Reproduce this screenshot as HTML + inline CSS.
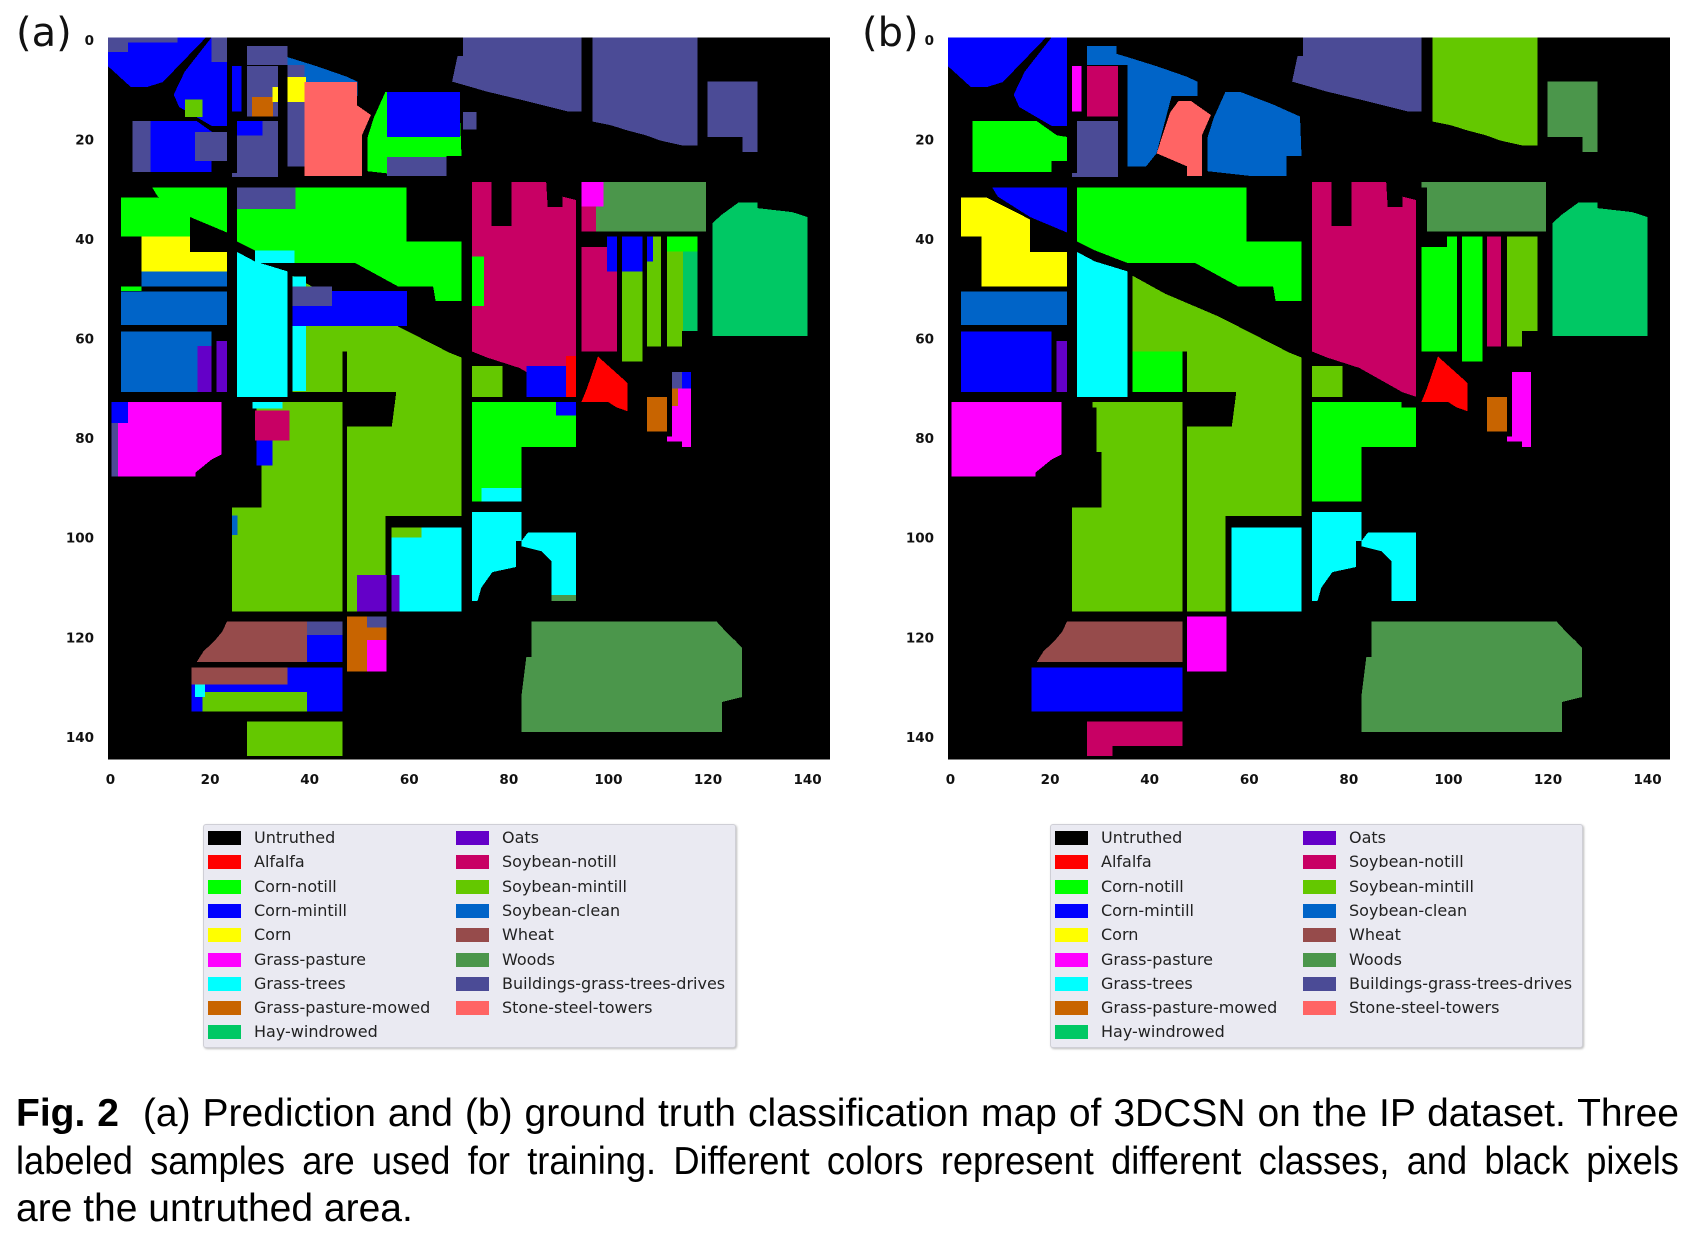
<!DOCTYPE html>
<html><head><meta charset="utf-8">
<style>
html,body{margin:0;padding:0;background:#fff;}
body{width:1687px;height:1235px;position:relative;overflow:hidden;font-family:"Liberation Sans",sans-serif;}
.panel-label{position:absolute;font-size:40px;color:#111;font-family:"DejaVu Sans","Liberation Sans",sans-serif;}
.legend{position:absolute;background:#eaeaf2;border:1px solid #cfcfd6;border-radius:3px;box-shadow:1px 1px 2px #bbb;}
.li{position:absolute;font-family:"DejaVu Sans",sans-serif;font-size:16px;color:#222;white-space:nowrap;}
.sw{position:absolute;width:33px;height:14px;}
.cap{position:absolute;left:16px;font-size:39px;color:#000;white-space:nowrap;transform-origin:0 0;}
.cap.j{text-align:justify;text-align-last:justify;width:1663px;white-space:normal;}
</style></head>
<body>
<div class="panel-label" style="left:16px;top:10px;">(a)</div>
<div class="panel-label" style="left:862px;top:10px;">(b)</div>
<svg id="chart" width="1687" height="810" style="position:absolute;left:0;top:0;"></svg>
<div id="legA" class="legend" style="left:203px;top:824px;width:531px;height:222px;"></div>
<div id="legB" class="legend" style="left:1050px;top:824px;width:531px;height:222px;"></div>
<div class="cap j" style="top:1092px;"><b>Fig. 2</b>&nbsp; (a) Prediction and (b) ground truth classification map of 3DCSN on the IP dataset. Three</div>
<div class="cap j" style="top:1140px;width:1790px;transform:scaleX(0.929);">labeled samples are used for training. Different colors represent different classes, and black pixels</div>
<div class="cap" style="top:1187px;">are the untruthed area.</div>
<script>
const classNames=["Untruthed","Alfalfa","Corn-notill","Corn-mintill","Corn","Grass-pasture","Grass-trees","Grass-pasture-mowed","Hay-windrowed","Oats","Soybean-notill","Soybean-mintill","Soybean-clean","Wheat","Woods","Buildings-grass-trees-drives","Stone-steel-towers"];
const classColors=["#000000","#ff0000","#00ff00","#0000ff","#ffff00","#ff00ff","#00ffff","#c86400","#00c864","#6400c8","#c80064","#64c800","#0064c8","#964b4b","#4b964b","#4b4b96","#ff6464"];
const xTicks=[0,20,40,60,80,100,120,140];
const yTicks=[0,20,40,60,80,100,120,140];
const gtRegions=[
[3,[[0,0],[19.7,0],[11,9],[7.8,10],[4.6,10],[0,5.8]]],
[3,[[20.8,0],[23.9,0],[23.9,17.8],[20.8,17.8],[14.3,14],[13.2,11.5],[15.4,6.9]]],
[5,[[24.9,5.8],[26.8,5.8],[26.8,14.9],[24.9,14.9]]],
[10,[[27.9,5.8],[34.1,5.8],[34.1,15.9],[27.9,15.9]]],
[15,[[25.9,16.8],[34.1,16.8],[34.1,28.1],[24.9,28.1],[24.9,27.3],[25.9,27.3]]],
[12,[[27.9,1.7],[33.8,1.7],[33.8,3.3],[37.1,4.3],[41.9,5.8],[47.9,7.9],[50.1,8.9],[50.1,11.8],[44.9,11.8],[41.9,23.3],[39.8,25.9],[36,25.9],[36,5.6],[27.9,5.6]]],
[16,[[46.3,12.8],[48.8,12.8],[52.8,15.6],[51,19.7],[51,27.9],[48,27.9],[48,25.9],[41.9,23.3],[44.6,15.1]]],
[12,[[55.7,11],[58.8,11],[65.3,13.5],[70.7,15.9],[71,23.8],[68,23.8],[68,27.9],[61.2,27.9],[52.1,26.9],[52.1,20.2],[53.4,16.1]]],
[15,[[71.3,0],[95.1,0],[95.1,14.9],[92.4,14.9],[84.8,13],[76.1,10.9],[69.1,8.9],[70.2,3.8],[71.3,3.8]]],
[11,[[97.3,0],[118.4,0],[118.4,21.7],[115.3,21.7],[110.8,20.7],[108.1,19.7],[104.3,18.7],[101.1,17.7],[97.3,16.9]]],
[14,[[120.4,8.9],[130.4,8.9],[130.4,23],[127.4,23],[127.4,20],[120.4,20]]],
[2,[[4.9,16.8],[17.8,16.8],[21.9,19.7],[23.9,20],[23.9,24.8],[20.8,24.8],[20.8,27.1],[4.9,27.1]]],
[3,[[8.9,30.2],[23.9,30.2],[23.9,39.2],[16.5,36.1],[10,32]]],
[4,[[2.6,32.2],[7.8,32.2],[16.5,36.6],[16.5,43.1],[23.9,43.1],[23.9,50],[6.7,50],[6.7,40],[2.6,40]]],
[12,[[2.6,51.1],[23.9,51.1],[23.9,57.8],[2.6,57.8]]],
[3,[[2.6,59.1],[20.8,59.1],[20.8,71.2],[2.6,71.2]]],
[9,[[21.8,61],[23.9,61],[23.9,71.2],[21.8,71.2]]],
[6,[[25.9,43.1],[29.5,45],[36,47],[36,72.2],[25.9,72.2]]],
[2,[[25.9,30.2],[59.9,30.2],[59.9,41],[71,41],[71,53],[65.8,53],[65.3,50],[58.2,50],[49.6,45.3],[36,45.3],[29.5,42.8],[25.9,41]]],
[11,[[37.1,47.9],[43.6,51.5],[54.4,56.1],[68.5,63.3],[71,64.3],[71,96.1],[55.7,96.1],[55.7,115.3],[48,115.3],[48,78.2],[57,78.2],[57.9,71.2],[48,71.2],[48,63.1],[37.1,63.1]]],
[2,[[37.1,63.1],[47.1,63.1],[47.1,71.2],[37.1,71.2]]],
[11,[[29,73.2],[47.1,73.2],[47.1,115.3],[24.9,115.3],[24.9,94.4],[30.8,94.4],[30.8,83.3],[29.8,83.3],[29.8,74.3],[29,74.3]]],
[5,[[0.7,73.2],[22.8,73.2],[22.8,83.8],[20.8,84.8],[17.6,87.4],[17.6,88.2],[0.7,88.2]]],
[6,[[56.9,98.4],[71,98.4],[71,115.3],[56.9,115.3]]],
[10,[[73.1,29.1],[77,29.1],[77,37.9],[81,37.9],[81,29.1],[88,29.1],[88.3,34.1],[91.3,34.1],[91.3,32],[94,32.7],[94,72.2],[91.3,71.3],[82.6,66.4],[76.1,64.3],[73.1,63.1]]],
[11,[[73.1,66],[79.2,66],[79.2,72.2],[73.1,72.2]]],
[2,[[73.1,73.2],[91.1,73.2],[91.1,74.3],[94,74.3],[94,82.3],[83,82.3],[83,93.2],[73.1,93.2]]],
[6,[[73.1,95.3],[83,95.3],[83,101.2],[81.9,101.2],[81.9,106.4],[77.2,107.4],[75,110.5],[74.2,113.2],[73.1,113.2]]],
[6,[[84.3,99.5],[94,99.5],[94,113.2],[89.1,113.2],[89.1,105.3],[87,103.2],[83,102.2],[83,101.2]]],
[14,[[95.1,29.1],[120.1,29.1],[120.1,39],[96.2,39],[96.2,30.2],[95.1,30.2]]],
[2,[[95.1,42.1],[100.2,42.1],[100.2,40],[102.2,40],[102.2,63.1],[95.1,63.1]]],
[2,[[103.2,40],[107.3,40],[107.3,65.1],[103.2,65.1]]],
[10,[[108.2,40],[111.1,40],[111.1,62.1],[108.2,62.1]]],
[11,[[112.3,40],[118.4,40],[118.4,59],[115.3,59],[115.3,62.1],[112.3,62.1]]],
[8,[[121.4,37.3],[123.3,35.6],[126.6,33.2],[130.4,33.2],[130.4,34.3],[137.4,35.1],[140.5,36.1],[140.5,60],[121.4,60]]],
[1,[[98.4,64.1],[100.4,65.9],[103.2,68.4],[104.3,69.4],[104.3,75.1],[102.1,74.3],[100.4,73.2],[95.1,73.2],[96.2,70.5]]],
[7,[[108.2,72.2],[112.3,72.2],[112.3,79.2],[108.2,79.2]]],
[5,[[113.3,67.2],[117.1,67.2],[117.1,82.3],[115.3,82.3],[115.3,81.2],[112.3,81.2],[112.3,80.2],[113.3,80.2]]],
[13,[[23.9,117.3],[47.1,117.3],[47.1,125.5],[17.8,125.5],[19.2,123.3],[21.4,121.2],[23,119.3]]],
[5,[[48,116.3],[55.9,116.3],[55.9,127.4],[48,127.4]]],
[3,[[16.8,126.6],[47.1,126.6],[47.1,135.4],[16.8,135.4]]],
[10,[[27.9,137.4],[47.1,137.4],[47.1,142.3],[33,142.3],[33,144.3],[27.9,144.3]]],
[14,[[85.1,117.3],[122.2,117.3],[124.4,119.7],[126,121.2],[127.3,122.6],[127.3,132.5],[123.3,133.5],[123.3,139.5],[83,139.5],[83,132.5],[84,124.5],[85.1,124.5]]]
];
const predClass=[3,3,3,15,15,12,16,2,15,15,15,3,2,4,12,12,9,6,2,11,11,11,5,6,10,11,2,6,6,14,10,11,11,11,8,1,7,5,13,7,3,11,14];
const predPatches=[
[15,0,0,4,3],[15,4,0,14,1],[15,20.8,0,23.9,5],[11,15.5,12.5,19,16],[15,4.9,16.8,8.5,27.1],[15,17.5,19,23.9,24.8],
[15,27.9,5.8,34.1,15.9],[7,28.9,12,33.1,15.9],[4,33,10,34.1,13],[3,25.9,16.8,31,19.7],[15,27.9,1.7,36,5.6],[15,36,5.6,39.5,25.9],[4,36,8,39.8,13],
[16,39.5,9,50,27.9],[3,56,11,70.7,20],[15,56,24,68,27.9],[15,71.3,15,74,18.5],
[2,2.6,32.2,16.5,40],[2,2.6,50,6.7,51],[12,6.7,47,23.9,50],[12,6.7,60,18,71.2],[9,18,62,20.8,71.2],
[15,25.9,30.2,37.7,34.5],[6,29.5,42.8,37.5,45.3],[6,37.1,48,39.8,71],[3,37.1,51,60,58],[15,37.1,50,45,54],
[10,29.5,75,36.5,81],[6,29,73.2,35,74.5],[3,29.8,81,33,86],[15,0.7,73.2,2,88.2],[3,0.7,73.2,4,77.5],
[2,73.1,44,75.5,54],[3,84,66,94,72.2],[1,92,64,94,72.2],[6,75,90.5,83,93.2],[3,90,73.2,94,76],
[5,95.1,29.1,99.5,34],[10,95.1,34,98,39],[10,95.1,42.1,99.8,63.1],[3,100.2,40,102.2,47],[3,103.2,40,107.3,47],[3,108.2,40,109.5,45],[11,108.2,45,111.1,62.1],
[8,115.5,42,118.4,59],[2,112.3,40,118.4,43],[15,113.3,67.2,115.3,70.5],[3,115.3,67.2,117.1,70.5],[7,113.3,70.5,114.5,74],
[15,40,117.3,47.1,120],[3,40,120,47.1,125.5],[5,52,121,55.9,127.4],[15,52,116.3,55.9,118.5],
[13,16.8,126.6,36,130],[11,19,131.5,40,135.4],[6,17.5,130,19.5,132.5],[11,27.9,137.4,47.1,144.3],
[11,24.9,94.4,26.5,96],[12,24.9,96,26,100],[9,50,108,55.9,115.3],[9,56.9,108,58.5,115.3],[11,56.9,98.4,63,100.5],[14,89.1,112,94,113.2]
];
const X0A=108, X0B=948, Y0=37.3, CELL=722/145;
function xs(u,off){return off+u*CELL;}
function ys(v){return Y0+v*CELL;}
const NS="http://www.w3.org/2000/svg";
const svg=document.getElementById('chart');
function mk(tag,attrs){const e=document.createElementNS(NS,tag);for(const k in attrs)e.setAttribute(k,attrs[k]);return e;}
function drawPanel(off,isPred,tag){
  const g=mk('g',{'shape-rendering':'crispEdges'});
  
  
  const bg=mk('rect',{x:off,y:Y0,width:145*CELL,height:145*CELL,fill:'#000'});
  
  
  g.appendChild(bg);
  gtRegions.forEach((r,i)=>{
    const c=isPred?predClass[i]:r[0];
    const p=mk('polygon',{points:r[1].map(q=>xs(q[0],off).toFixed(1)+','+ys(q[1]).toFixed(1)).join(' '),fill:classColors[c]});
    
    
    g.appendChild(p);
  });
  if(isPred){
    predPatches.forEach(r=>{
      const p=mk('rect',{x:xs(r[1],off),y:ys(r[2]),width:(r[3]-r[1])*CELL,height:(r[4]-r[2])*CELL,fill:classColors[r[0]]});
      
      
      g.appendChild(p);
    });
  }
  svg.appendChild(g);
  xTicks.forEach(t=>{
    const e=mk('text',{x:xs(t+0.5,off),y:784,'text-anchor':'middle','font-size':'13.5','font-weight':'bold','font-family':'DejaVu Sans, sans-serif',fill:'#111'});
    e.textContent=t;
    
    
    svg.appendChild(e);
  });
  yTicks.forEach(t=>{
    const e=mk('text',{x:off-14,y:ys(t+0.5)+5,'text-anchor':'end','font-size':'13.5','font-weight':'bold','font-family':'DejaVu Sans, sans-serif',fill:'#111'});
    e.textContent=t;
    
    
    svg.appendChild(e);
  });
}
drawPanel(X0A,true,'prediction');
drawPanel(X0B,false,'ground-truth');
function legend(id){
  const L=document.getElementById(id);
  classNames.forEach((n,i)=>{
    const col=i<9?0:1, row=i<9?i:i-9;
    const sw=document.createElement('div');
    sw.className='sw';
    
    
    sw.style.left=(col?252:4)+'px'; sw.style.top=(6+row*24.3)+'px'; sw.style.background=classColors[i];
    L.appendChild(sw);
    const t=document.createElement('div');
    t.className='li';
    
    
    t.style.left=(col?298:50)+'px'; t.style.top=(3+row*24.3)+'px';
    t.textContent=n;
    L.appendChild(t);
  });
}
legend('legA');legend('legB');
</script>
</body></html>
